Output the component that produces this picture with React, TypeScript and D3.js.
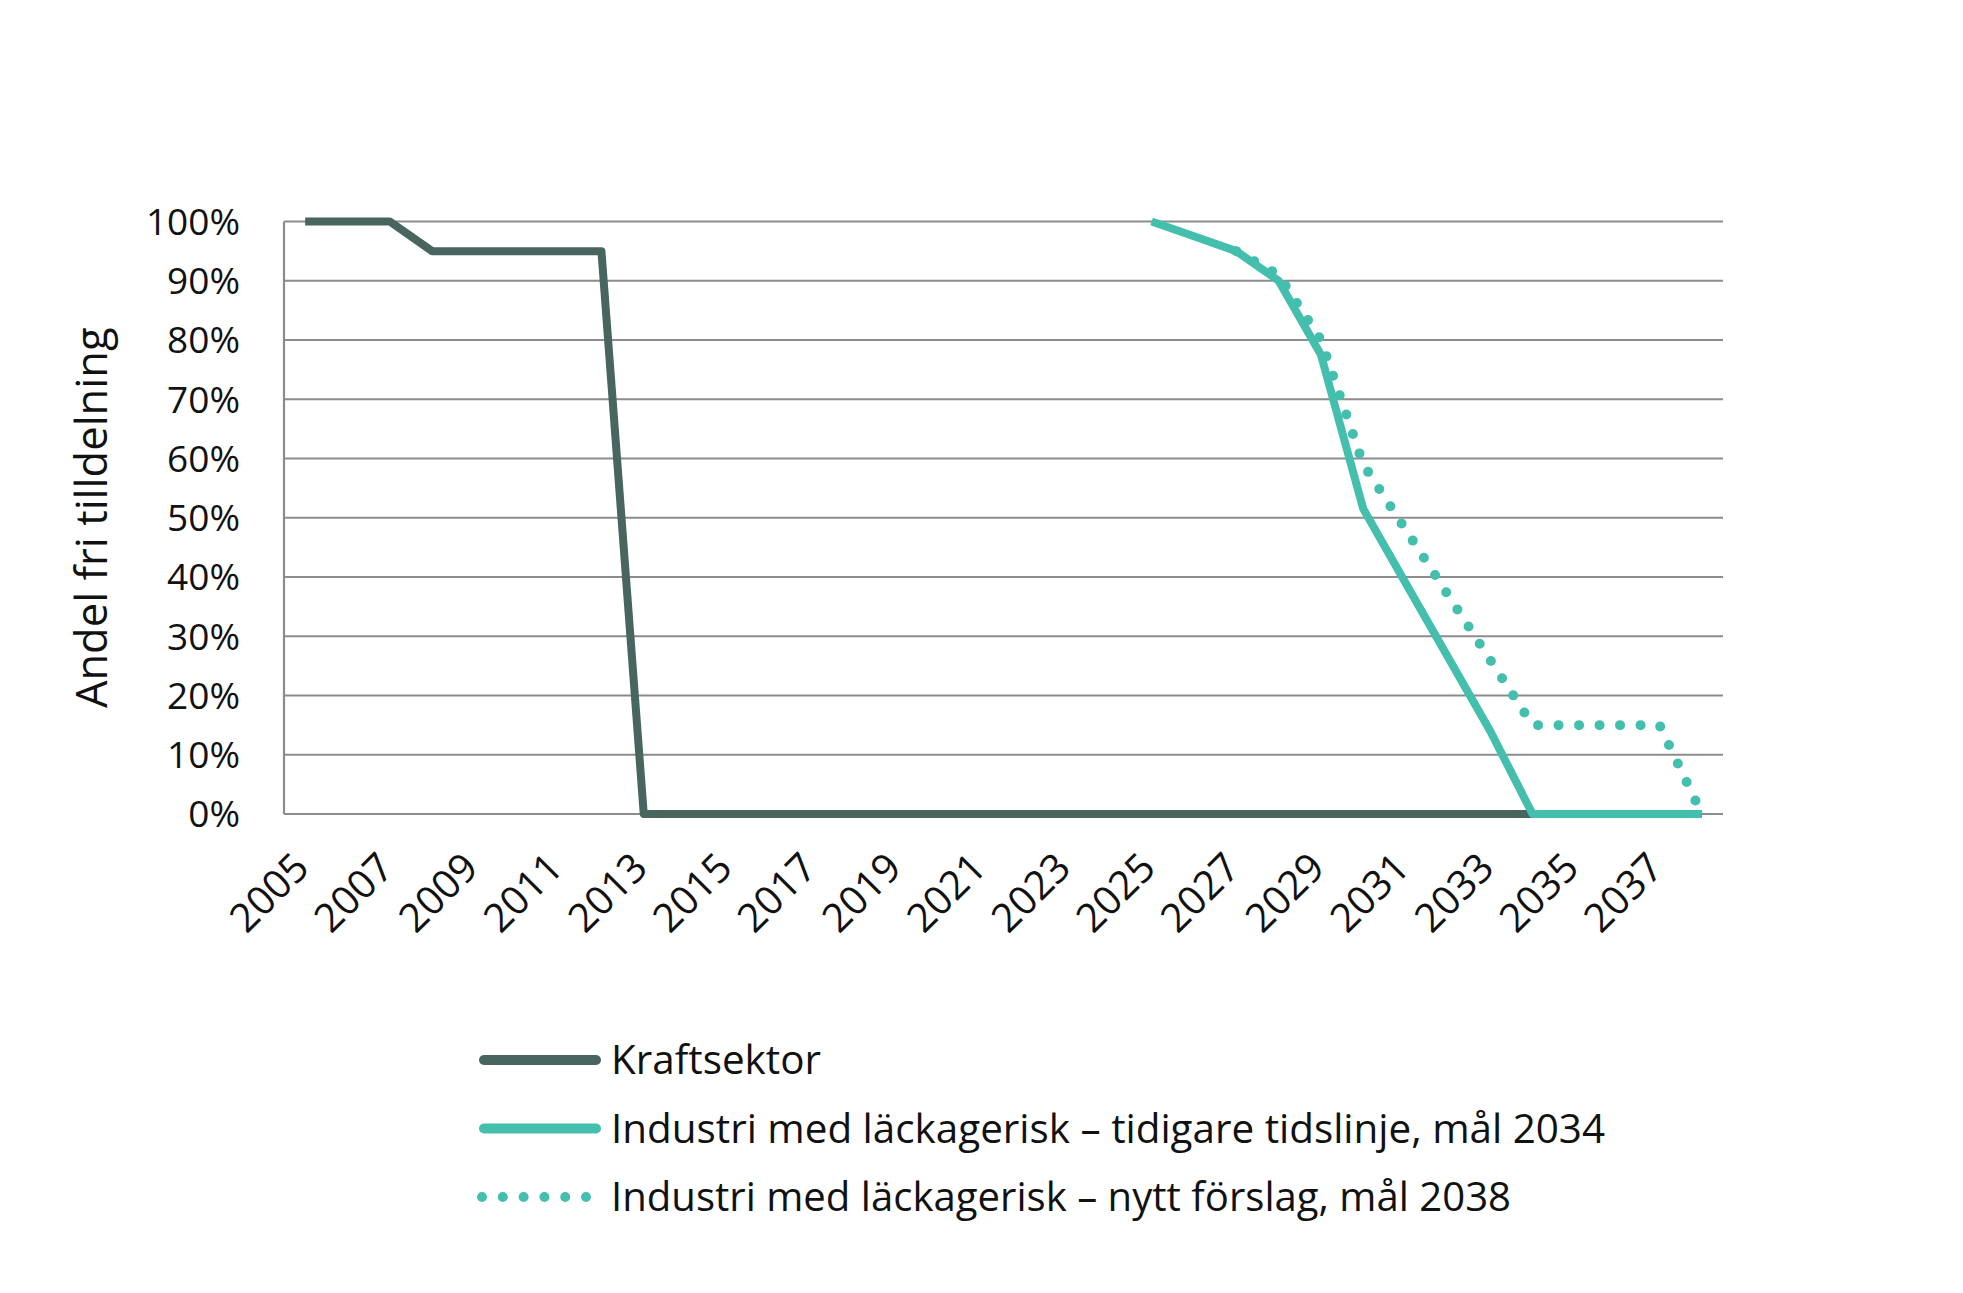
import * as d3 from "d3";

const years = [
  2005, 2006, 2007, 2008, 2009, 2010, 2011, 2012, 2013, 2014, 2015, 2016,
  2017, 2018, 2019, 2020, 2021, 2022, 2023, 2024, 2025, 2026, 2027, 2028,
  2029, 2030, 2031, 2032, 2033, 2034, 2035, 2036, 2037, 2038,
];

// Kraftsektor, 2005–2038
const kraftsektor = [
  100, 100, 100, 95, 95, 95, 95, 95, 0, 0, 0, 0, 0, 0, 0, 0, 0, 0, 0, 0, 0,
  0, 0, 0, 0, 0, 0, 0, 0, 0, 0, 0, 0, 0,
];

// Industri, tidigare tidslinje (mål 2034), from 2025
const industriTidigare = [
  null, null, null, null, null, null, null, null, null, null, null, null,
  null, null, null, null, null, null, null, null,
  100, 97.5, 95, 90, 77.5, 51.5, 39, 26.5, 14, 0, 0, 0, 0, 0,
];

// Industri, nytt förslag (mål 2038), splits off from 2027
const industriNytt = [
  null, null, null, null, null, null, null, null, null, null, null, null,
  null, null, null, null, null, null, null, null,
  null, null, 95, 91, 80, 59, 48, 37, 26, 15, 15, 15, 15, 0,
];

const yTicks = [0, 10, 20, 30, 40, 50, 60, 70, 80, 90, 100];
const xTickLabels = years.filter((y) => (y - 2005) % 2 === 0);

const legendItems = [
  { label: "Kraftsektor", color: "#48655f", dotted: false, length: 210 },
  {
    label: "Industri med  läckagerisk – tidigare tidslinje, mål 2034",
    color: "#44bfad",
    dotted: false,
    length: 994,
  },
  {
    label: "Industri med läckagerisk – nytt förslag, mål 2038",
    color: "#44bfad",
    dotted: true,
    length: 900,
  },
];

const W = 1963;
const H = 1293;
const margin = { left: 284, right: W - 1723, top: 221.5, bottom: H - 814 };
const font = "'Open Sans', 'Liberation Sans', sans-serif";

export default function App() {
  const x = d3
    .scaleBand<number>()
    .domain(years)
    .range([margin.left, W - margin.right])
    .padding(0);
  const y = d3
    .scaleLinear()
    .domain([0, 100])
    .range([H - margin.bottom, margin.top]);

  const cx = (yr: number) => x(yr)! + x.bandwidth() / 2;

  const line = d3
    .line<number | null>()
    .defined((d) => d !== null)
    .x((_, i) => cx(years[i]))
    .y((d) => y(d as number));

  const grayAxis = "#8c8c8c";

  return (
    <svg
      width={W}
      height={H}
      style={{ position: "absolute", left: 0, top: 0, background: "#fff" }}
    >
      {/* Gridlines */}
      {yTicks.map((t) => (
        <line
          key={t}
          x1={margin.left}
          x2={W - margin.right}
          y1={y(t)}
          y2={y(t)}
          stroke={grayAxis}
          strokeWidth={2.2}
        />
      ))}
      <line
        x1={margin.left}
        x2={margin.left}
        y1={y(100)}
        y2={y(0)}
        stroke={grayAxis}
        strokeWidth={2.2}
      />

      {/* Y tick labels */}
      {yTicks.map((t) => (
        <text
          key={t}
          x={240}
          y={y(t)}
          dy="0.36em"
          textAnchor="end"
          fontFamily={font}
          fontSize={37}
          fill="#111"
        >
          {t}%
        </text>
      ))}

      {/* Y axis title */}
      <text
        transform={`translate(107, ${(y(0) + y(100)) / 2}) rotate(-90)`}
        textAnchor="middle"
        fontFamily={font}
        fontSize={43.5}
        fill="#111"
      >
        Andel fri tilldelning
      </text>

      {/* X tick labels */}
      {xTickLabels.map((yr) => (
        <text
          key={yr}
          transform={`translate(${cx(yr) + 6}, ${y(0) + 56}) rotate(-45)`}
          textAnchor="end"
          fontFamily={font}
          fontSize={40}
          fill="#111"
        >
          {yr}
        </text>
      ))}

      {/* Lines */}
      <path
        d={line(kraftsektor) ?? ""}
        fill="none"
        stroke="#48655f"
        strokeWidth={8}
        strokeLinejoin="round"
      />
      <path
        d={line(industriNytt) ?? ""}
        fill="none"
        stroke="#44bfad"
        strokeWidth={10}
        strokeLinecap="round"
        strokeDasharray="0 20.5"
      />
      <path
        d={line(industriTidigare) ?? ""}
        fill="none"
        stroke="#44bfad"
        strokeWidth={8}
        strokeLinejoin="round"
      />

      {/* Legend */}
      {legendItems.map((item, i) => {
        const ly = 1060 + i * 68.5;
        return (
          <g key={item.label}>
            {item.dotted ? (
              <line
                x1={482}
                x2={588}
                y1={ly}
                y2={ly}
                stroke={item.color}
                strokeWidth={10}
                strokeLinecap="round"
                strokeDasharray="0 20.8"
              />
            ) : (
              <line
                x1={484}
                x2={596}
                y1={ly}
                y2={ly}
                stroke={item.color}
                strokeWidth={10}
                strokeLinecap="round"
              />
            )}
            <text
              x={611}
              y={ly}
              dy="0.36em"
              fontFamily={font}
              fontSize={40}
              fill="#111"
              textLength={item.length}
              lengthAdjust="spacingAndGlyphs"
            >
              {item.label}
            </text>
          </g>
        );
      })}
    </svg>
  );
}
